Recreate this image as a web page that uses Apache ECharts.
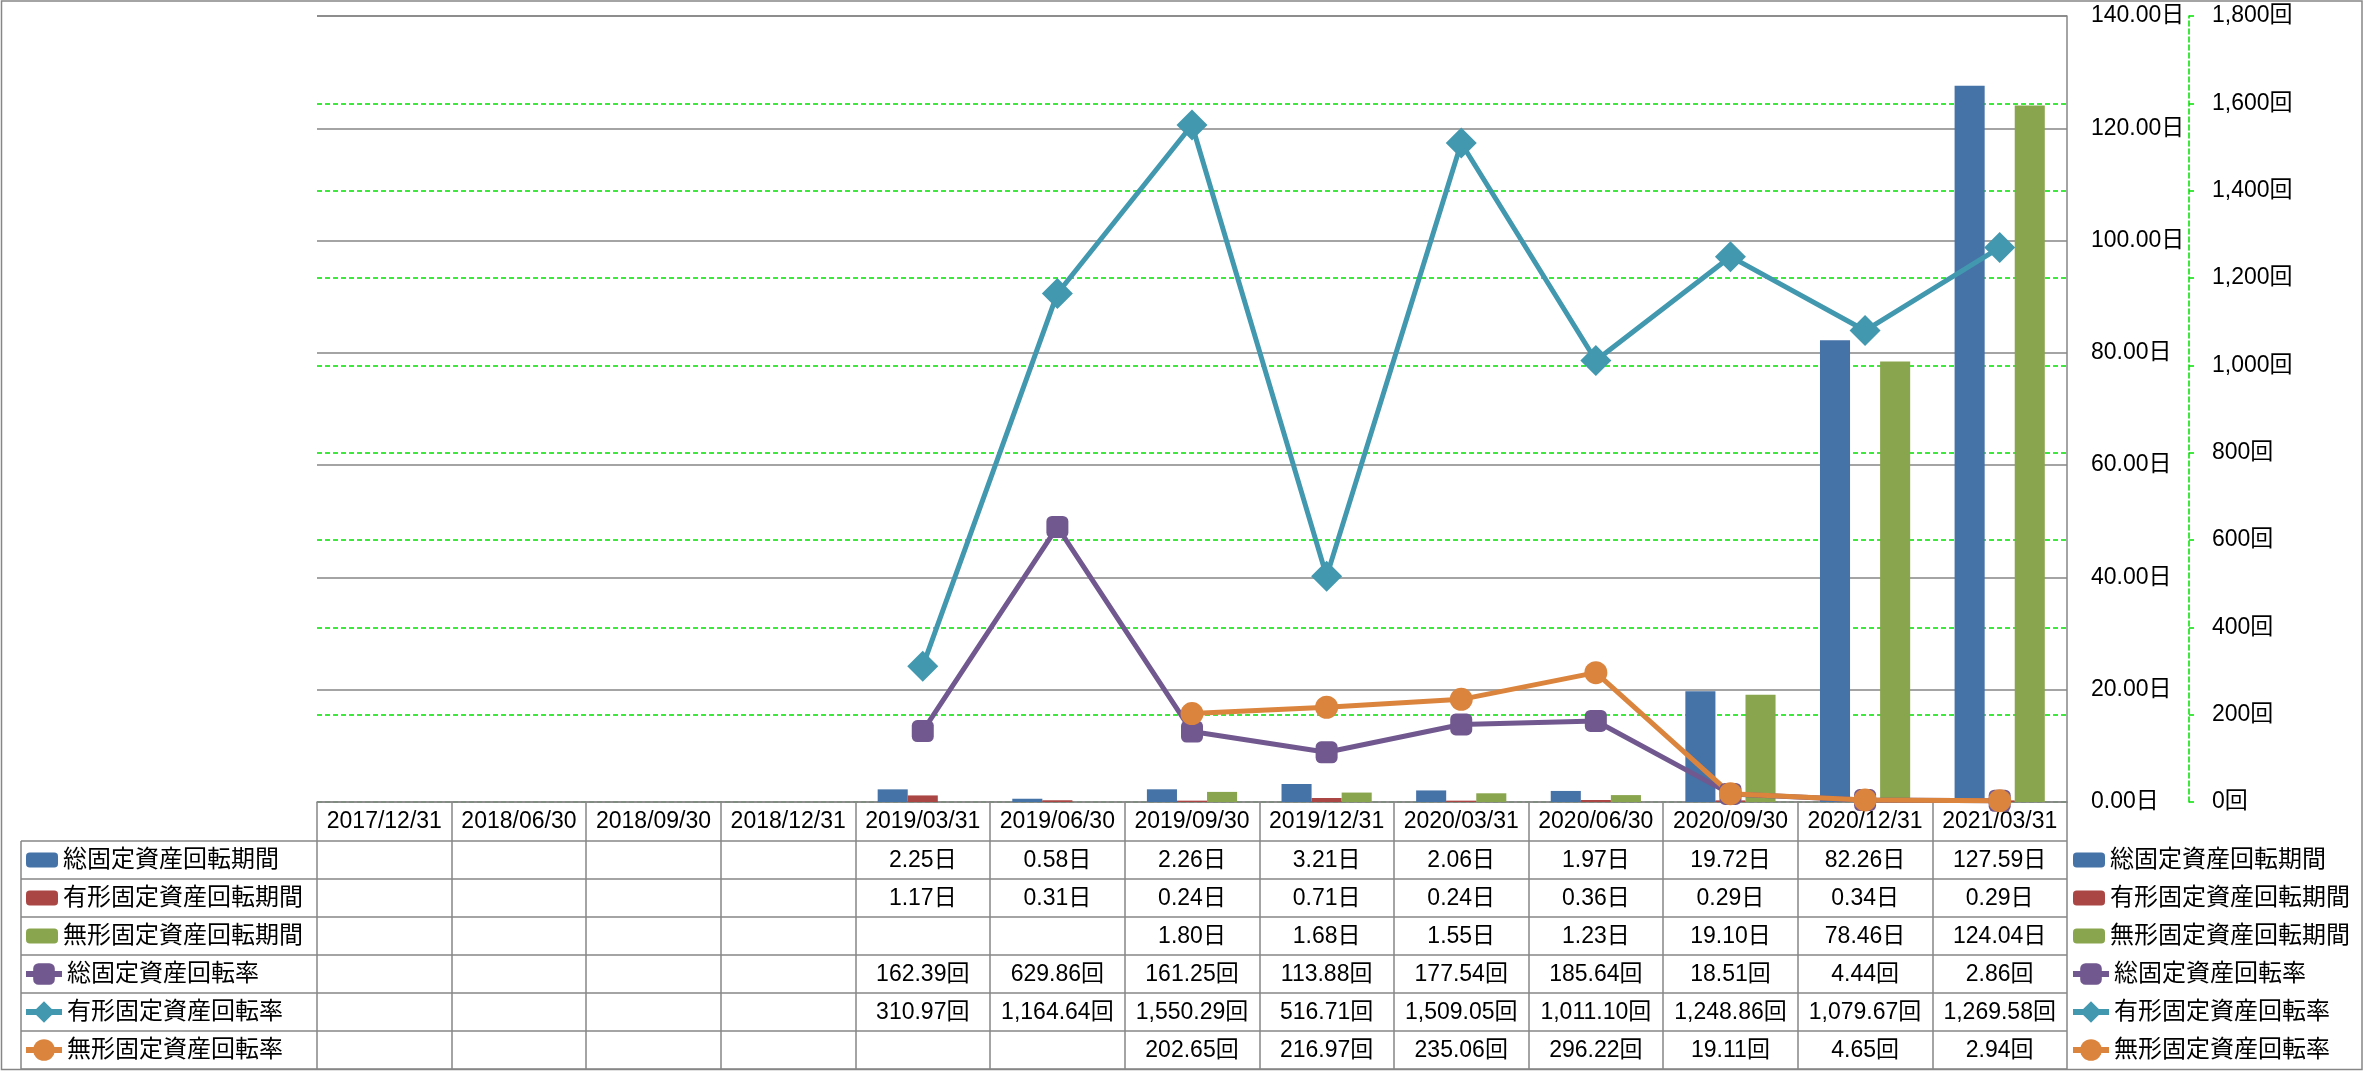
<!DOCTYPE html>
<html><head><meta charset="utf-8">
<script src="https://cdn.jsdelivr.net/npm/echarts@6/dist/echarts.min.js"></script>
<style>html,body{margin:0;padding:0;background:#fff}#c{width:2367px;height:1071px}</style>
</head><body><div id="c"></div>
<script>
// ---- data ----
const categories = ['2017/12/31','2018/06/30','2018/09/30','2018/12/31','2019/03/31','2019/06/30','2019/09/30','2019/12/31','2020/03/31','2020/06/30','2020/09/30','2020/12/31','2021/03/31'];
const totalPeriod      = [null,null,null,null,2.25,0.58,2.26,3.21,2.06,1.97,19.72,82.26,127.59];
const tangiblePeriod   = [null,null,null,null,1.17,0.31,0.24,0.71,0.24,0.36,0.29,0.34,0.29];
const intangiblePeriod = [null,null,null,null,null,null,1.80,1.68,1.55,1.23,19.10,78.46,124.04];
const totalTurnover      = [null,null,null,null,162.39,629.86,161.25,113.88,177.54,185.64,18.51,4.44,2.86];
const tangibleTurnover   = [null,null,null,null,310.97,1164.64,1550.29,516.71,1509.05,1011.10,1248.86,1079.67,1269.58];
const intangibleTurnover = [null,null,null,null,null,null,202.65,216.97,235.06,296.22,19.11,4.65,2.94];
const seriesNames = ['総固定資産回転期間','有形固定資産回転期間','無形固定資産回転期間','総固定資産回転率','有形固定資産回転率','無形固定資産回転率'];
const dayAxis = {min:0, max:140, interval:20, unit:'日'};
const countAxis = {min:0, max:1800, interval:200, unit:'回'};

// ---- style / layout ----
const FONT = '"Liberation Sans", "Noto Sans CJK JP", sans-serif';
const GRAY = '#868686';
const GREEN = '#00E000';
const COLORS = ['#4572A7','#AA4643','#89A54E','#71588F','#4198AF','#DB843D'];
const W = 2367, H = 1071;
const plotLeft = 317, plotRight = 2067, plotTop = 16, plotBottom = 802;
const headerH = 39, rowH = 38, tableLeft = 21;

const fmt2 = v => v == null ? '' : v.toLocaleString('en-US', {minimumFractionDigits:2, maximumFractionDigits:2});
const rows = [
  {vals: totalPeriod, unit: dayAxis.unit},
  {vals: tangiblePeriod, unit: dayAxis.unit},
  {vals: intangiblePeriod, unit: dayAxis.unit},
  {vals: totalTurnover, unit: countAxis.unit},
  {vals: tangibleTurnover, unit: countAxis.unit},
  {vals: intangibleTurnover, unit: countAxis.unit}
];
const tableBottom = plotBottom + headerH + rowH * rows.length;

const textBase = {fontFamily: FONT, fontSize: 23, color: '#000'};

const xAxes = [{
  type: 'category', data: categories, position: 'bottom', boundaryGap: true, z: 6,
  axisLine: {show: true, lineStyle: {color: GRAY, width: 1.5}},
  axisTick: {show: true, interval: 0, length: tableBottom - plotBottom, lineStyle: {color: GRAY, width: 1.5}},
  axisLabel: Object.assign({interval: 0, margin: 8}, textBase),
  splitLine: {show: false}
}];
rows.forEach((r, i) => {
  xAxes.push({
    type: 'category', data: categories, position: 'bottom', boundaryGap: true,
    offset: headerH + rowH * i,
    axisLine: {show: false}, axisTick: {show: false}, splitLine: {show: false},
    axisLabel: Object.assign({interval: 0, margin: 8,
      formatter: (v, idx) => r.vals[idx] == null ? '' : fmt2(r.vals[idx]) + r.unit}, textBase)
  });
});

const graphics = [];
for (let i = 0; i <= rows.length; i++) {
  const y = plotBottom + headerH + rowH * i;
  graphics.push({type: 'line', shape: {x1: tableLeft, y1: y, x2: plotRight, y2: y}, style: {stroke: GRAY, lineWidth: 1.5}, silent: true});
}
graphics.push({type: 'line', shape: {x1: tableLeft, y1: plotBottom + headerH, x2: tableLeft, y2: tableBottom}, style: {stroke: GRAY, lineWidth: 1.5}, silent: true});
graphics.push({type: 'rect', shape: {x: 1.5, y: 1, width: 2360.5, height: 1068.5}, style: {fill: null, stroke: GRAY, lineWidth: 1.5}, silent: true});

const legendText = {fontFamily: FONT, fontSize: 24, lineHeight: rowH, color: '#000'};
function legend(names, left, top, iw, ih, lw) {
  const l = {data: names, orient: 'vertical', left: left, top: top, padding: 0, itemGap: 0,
    itemWidth: iw, itemHeight: ih, selectedMode: false, textStyle: legendText};
  if (lw) l.lineStyle = {width: lw};
  return l;
}
const legends = [
  legend(seriesNames.slice(0,3), 26, plotBottom + headerH, 32, 15),
  legend(seriesNames.slice(3), 23, plotBottom + headerH + rowH * 3, 36, 27, 6),
  legend(seriesNames.slice(0,3), 2073, plotBottom + headerH, 32, 15),
  legend(seriesNames.slice(3), 2070, plotBottom + headerH + rowH * 3, 36, 27, 6)
];

const barData = [totalPeriod, tangiblePeriod, intangiblePeriod];
const lineData = [totalTurnover, tangibleTurnover, intangibleTurnover];
const symbols = [['roundRect', 22], ['diamond', 31], ['circle', 23]];
const series = [];
barData.forEach((d, i) => series.push({
  type: 'bar', name: seriesNames[i], data: d, xAxisIndex: 0, yAxisIndex: 0, z: 10,
  barGap: '0%', barCategoryGap: '33%', itemStyle: {color: COLORS[i]}
}));
// top gridline of the day axis (ECharts omits the split line at the axis max here)
series[0].markLine = {silent: true, symbol: 'none', label: {show: false}, animation: false,
  lineStyle: {color: GRAY, width: 1.5, type: 'solid'}, data: [{yAxis: dayAxis.max}]};
lineData.forEach((d, i) => series.push({
  type: 'line', name: seriesNames[3 + i], data: d, xAxisIndex: 0, yAxisIndex: 1, z: 11,
  symbol: symbols[i][0], symbolSize: symbols[i][1], showAllSymbol: true, connectNulls: true,
  lineStyle: {width: 5, color: COLORS[3 + i]}, itemStyle: {color: COLORS[3 + i]}
}));

const chart = echarts.init(document.getElementById('c'), null, {renderer: 'canvas'});
chart.setOption({
  animation: false,
  backgroundColor: '#fff',
  grid: {left: plotLeft, right: W - plotRight, top: plotTop, bottom: H - plotBottom, containLabel: false},
  legend: legends,
  xAxis: xAxes,
  yAxis: [{
    type: 'value', position: 'right', min: dayAxis.min, max: dayAxis.max, interval: dayAxis.interval, z: 5,
    axisLine: {show: true, lineStyle: {color: GRAY, width: 1.5}},
    axisTick: {show: false},
    axisLabel: Object.assign({margin: 24, formatter: v => v.toFixed(2) + dayAxis.unit}, textBase),
    splitLine: {show: true, lineStyle: {color: GRAY, width: 1.5}}
  }, {
    type: 'value', position: 'right', offset: 122, min: countAxis.min, max: countAxis.max, interval: countAxis.interval, z: 1,
    axisLine: {show: true, lineStyle: {color: GREEN, width: 1.5, type: [5, 3]}},
    axisTick: {show: true, length: 5, lineStyle: {color: GREEN, width: 1.5, type: [5, 3]}},
    axisLabel: Object.assign({margin: 23, formatter: v => v.toLocaleString('en-US') + countAxis.unit}, textBase),
    splitLine: {show: true, showMaxLine: false, lineStyle: {color: GREEN, width: 1.5, type: [5, 3]}}
  }],
  graphic: graphics,
  series: series
});
</script></body></html>
